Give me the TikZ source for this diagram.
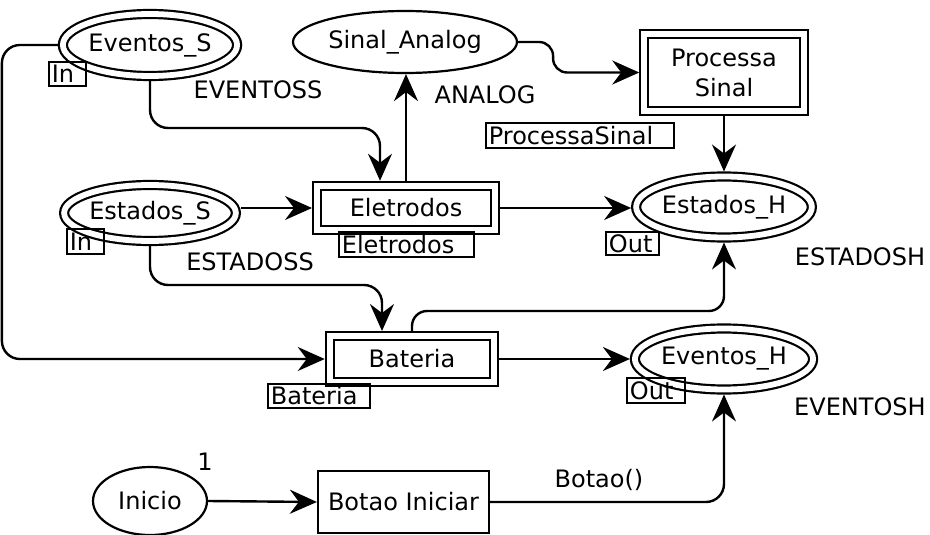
\documentclass[tikz,border=0pt]{standalone}
\usepackage{fontspec}
\setmainfont{DejaVu Sans}
\usetikzlibrary{shapes.geometric, arrows.meta, calc}
\begin{document}
\begin{tikzpicture}[x=1pt, y=-1pt,
  font=\fontsize{24}{29}\selectfont,
  place/.style={ellipse, draw, line width=2.2pt, inner sep=0pt},
  port/.style={place, double, double distance=5.8pt, outer sep=5pt},
  trans/.style={rectangle, draw, line width=2.2pt, inner sep=0pt},
  subst/.style={trans, double, double distance=5.8pt, outer sep=5pt},
  lbl/.style={draw, line width=1.8pt, inner xsep=3pt, inner ysep=0pt, align=left, anchor=north west},
  txt/.style={inner sep=0pt},
  arc/.style={line width=2.4pt, -{Stealth[length=27pt,width=24pt,inset=9pt,fill=black]}},
  bend/.style={rounded corners=#1},
  bend/.default=18pt
]
\useasboundingbox (0,0) rectangle (930,535);

% places
\node[port, minimum width=156pt, minimum height=62pt] (EvS) at (150,45) {Eventos\_S};
\node[place, minimum width=224pt, minimum height=62pt] (SA) at (405,42) {Sinal\_Analog};
\node[port, minimum width=165pt, minimum height=56pt] (EsS) at (150,213) {Estados\_S};
\node[port, minimum width=172pt, minimum height=61pt] (EsH) at (724,207) {Estados\_H};
\node[port, minimum width=174pt, minimum height=61pt] (EvH) at (724,359) {Eventos\_H};
\node[place, minimum width=114pt, minimum height=68pt] (Ini) at (150,501) {Inicio};

% transitions
\node[subst, minimum width=159.5pt, minimum height=77pt, align=center, font=\fontsize{24}{30}\selectfont] (PS) at (724,72.5) {Processa\\Sinal};
\node[subst, minimum width=178pt, minimum height=44.5pt] (Ele) at (406,208) {Eletrodos};
\node[subst, minimum width=164.5pt, minimum height=46pt] (Bat) at (412,359) {Bateria};
\node[trans, minimum width=171pt, minimum height=62pt] (BI) at (403.5,502) {Botao Iniciar};

% port / fusion tags
\node[lbl, text width=31pt, minimum height=24pt] (tIn1) at (48,61) {In};
\node[lbl, text width=31pt, minimum height=25pt] (tIn2) at (66,228) {In};
\node[lbl, text width=47pt, minimum height=23pt] (tOut1) at (605,231) {Out};
\node[lbl, text width=52pt, minimum height=25pt] (tOut2) at (626,377) {Out};
\node[lbl, text width=182pt, minimum height=25pt] (tPS) at (485,122) {ProcessaSinal};
\node[lbl, text width=129pt, minimum height=25pt] (tEle) at (338,231) {Eletrodos};
\node[lbl, text width=96pt, minimum height=24pt] (tBat) at (267,383) {Bateria};

% inscriptions
\node[txt] (lEvS) at (258,90) {EVENTOSS};
\node[txt] (lAn) at (485,95) {ANALOG};
\node[txt] (lEsS) at (250,262) {ESTADOSS};
\node[txt] (lEsH) at (860,257) {ESTADOSH};
\node[txt] (lEvH) at (860,407) {EVENTOSH};
\node[txt] (lIni) at (205,462) {1};
\node[txt] (lBot) at (599,480) {Botao()};

% helper coordinates
\coordinate (e1) at ([xshift=-26pt]Ele.north);
\coordinate (b1) at ([xshift=-30pt]Bat.north);

% arcs
\draw[arc] (EvS.west) {[bend] -- ++(-56,0) |- (Bat.west)};
\draw[arc] (EvS.south) {[bend] -- ++(0,47) -| (e1)};
\draw[arc] (Ele.north) -- (Ele.north |- SA.south);
\draw[arc] (SA.east) {[bend=14pt] -- ++(35,0) |- (PS.west)};
\draw[arc] (PS.south) -- (EsH.north);
\draw[arc] (Ele.west -| EsS.east) -- (Ele.west);
\draw[arc] (Ele.east) -- (Ele.east -| EsH.west);
\draw[arc] (EsS.south) {[bend] -- ++(0,39) -| (b1)};
\draw[arc] (Bat.north) {[bend=15pt] -- ++(0,-20) -| (EsH.south)};
\draw[arc] (Bat.east) -- (Bat.east -| EvH.west);
\draw[arc] (Ini.east) -- (BI.west);
\draw[arc] (BI.east) {[bend] -| (EvH.south)};
\end{tikzpicture}
\end{document}
